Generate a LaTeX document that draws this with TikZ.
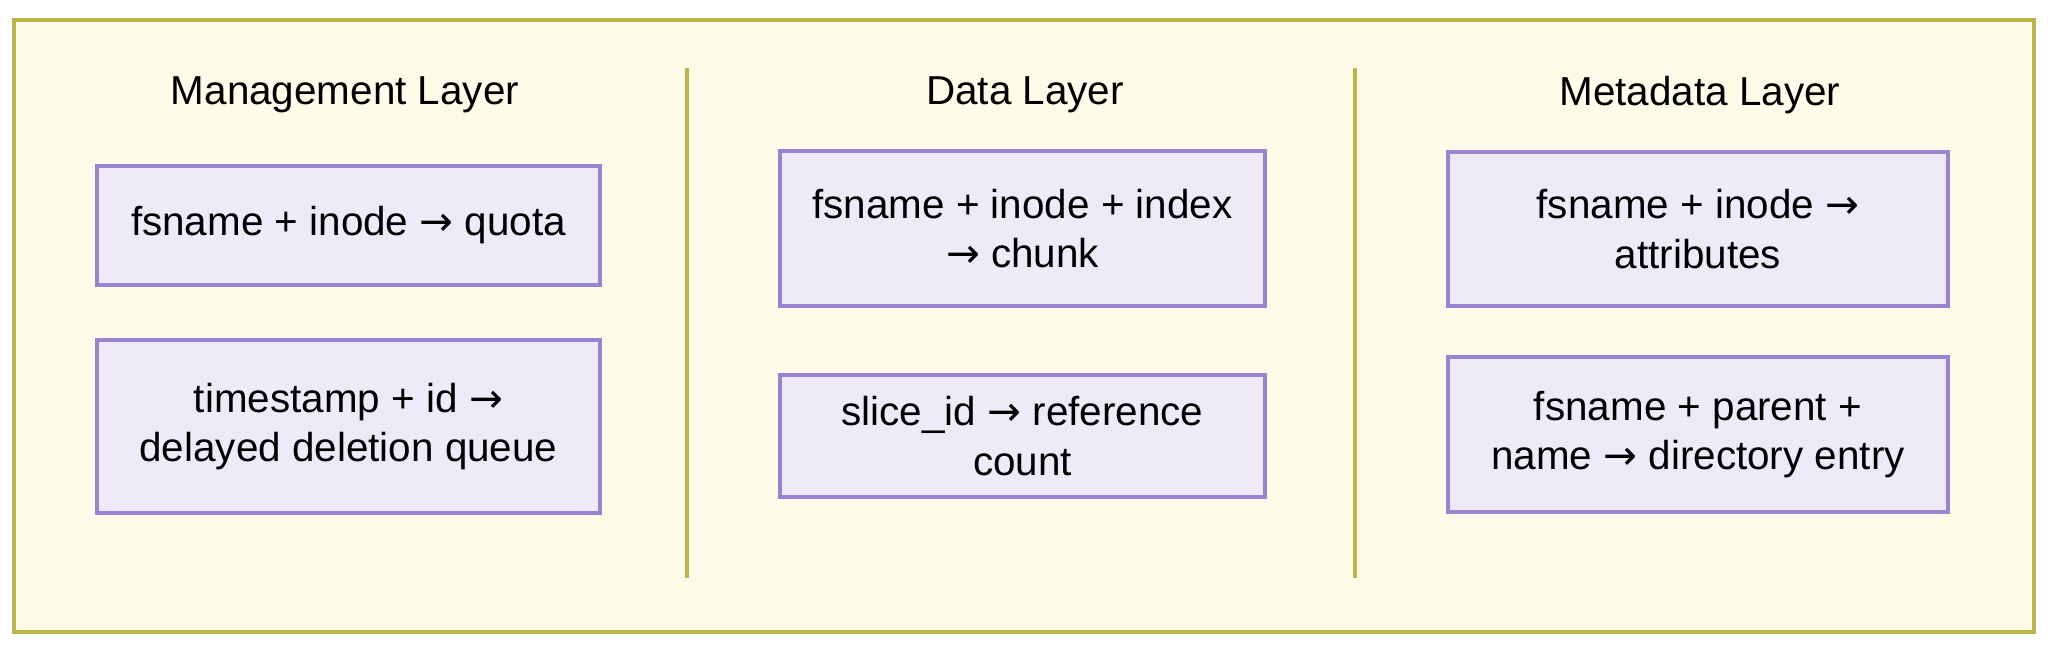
\documentclass[tikz,border=0pt]{standalone}
\usepackage{fontspec}
\setmainfont{Liberation Sans}
\newfontfamily\arrowfont{DejaVu Sans}
\usepackage{tikz}
\usetikzlibrary{positioning}
\definecolor{panelfill}{HTML}{FEFCE8}
\definecolor{paneldraw}{HTML}{BDB548}
\definecolor{keyfill}{HTML}{EEEAF8}
\definecolor{keydraw}{HTML}{9A84D2}
\newcommand{\maps}{{\arrowfont →}}

\begin{document}
\begin{tikzpicture}[
    keybox/.style={
        rectangle,
        fill=keyfill,
        draw=keydraw,
        line width=1pt,
        align=center,
        font=\fontsize{11.5pt}{14pt}\selectfont
    },
    title/.style={
        font=\fontsize{11.5pt}{14pt}\selectfont
    },
    divider/.style={
        draw=paneldraw,
        line width=1pt
    }
]
    \useasboundingbox (0,0) rectangle (20.48,6.5);
    % Background panel
    \node[draw=paneldraw, fill=panelfill, line width=1pt, minimum width=20.2cm, minimum height=6.12cm] (panel) at (10.24,3.24) {};

    % Management layer
    \node[title] (mgmt) at (3.45,5.55) {Management Layer};
    \node[keybox, minimum width=5.03cm, minimum height=1.19cm] (quota) at (3.485,4.245) {fsname + inode \maps{} quota};
    \node[keybox, minimum width=5.03cm, minimum height=1.73cm] (delq) at (3.485,2.235) {timestamp + id \maps\\delayed deletion queue};

    % Data layer
    \node[title] (data) at (10.25,5.55) {Data Layer};
    \node[keybox, minimum width=4.85cm, minimum height=1.55cm] (chunk) at (10.225,4.215) {fsname + inode + index\\\maps{} chunk};
    \node[keybox, minimum width=4.85cm, minimum height=1.22cm] (refcnt) at (10.225,2.14) {slice\_id \maps{} reference\\count};

    % Metadata layer
    \node[title] (meta) at (17.0,5.55) {Metadata Layer};
    \node[keybox, minimum width=5.0cm, minimum height=1.54cm] (attr) at (16.98,4.21) {fsname + inode \maps\\attributes};
    \node[keybox, minimum width=5.0cm, minimum height=1.55cm] (dentry) at (16.98,2.155) {fsname + parent +\\name \maps{} directory entry};

    % Dividers
    \coordinate (d1top) at (6.87,5.82);
    \coordinate (d1bot) at (6.87,0.72);
    \coordinate (d2top) at (13.55,5.82);
    \coordinate (d2bot) at (13.55,0.72);
    \draw[divider] (d1top) -- (d1bot);
    \draw[divider] (d2top) -- (d2bot);
\end{tikzpicture}
\end{document}
